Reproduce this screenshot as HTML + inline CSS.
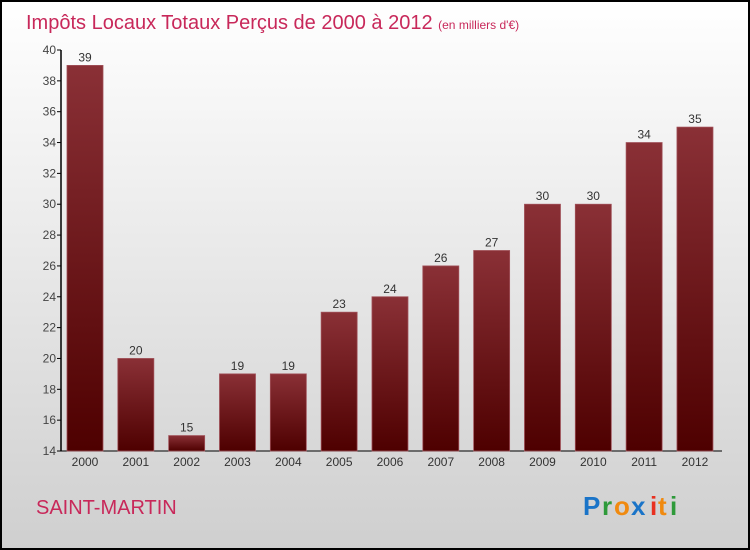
<!DOCTYPE html>
<html><head><meta charset="utf-8"><style>
body{margin:0;width:750px;height:550px;overflow:hidden}
svg{display:block}
</style></head><body>
<svg id="chart" width="750" height="550" xmlns="http://www.w3.org/2000/svg">
<defs>
<linearGradient id="bg" x1="0" y1="0" x2="0" y2="1"><stop offset="0" stop-color="#ffffff"/><stop offset="1" stop-color="#cfcfcf"/></linearGradient>
<linearGradient id="bar" x1="0" y1="0" x2="0" y2="1"><stop offset="0" stop-color="#8a3036"/><stop offset="1" stop-color="#4e0000"/></linearGradient>
</defs>
<rect x="1" y="1" width="748" height="548" fill="url(#bg)" stroke="#000" stroke-width="2"/>
<text x="26" y="29" font-family="Liberation Sans, sans-serif" font-size="20" fill="#c8285a">Impôts Locaux Totaux Perçus de 2000 à 2012 <tspan font-size="12">(en milliers d'€)</tspan></text>
<g id="axis"></g>
<g id="bars"></g>
<text x="36" y="514" font-family="Liberation Sans, sans-serif" font-size="20" fill="#c8285a">SAINT-MARTIN</text>
<g font-family="Liberation Sans, sans-serif" font-size="26" font-weight="bold">
<text x="583" y="515" fill="#1a74c8">P</text><text x="602" y="515" fill="#2e9a3a">r</text><text x="614" y="515" fill="#f08a10">o</text><text x="631" y="515" fill="#1a74c8">x</text><text x="650" y="515" fill="#e83020">i</text><text x="658" y="515" fill="#f08a10">t</text><text x="670" y="515" fill="#2e9a3a">i</text>
</g>
</svg>
<script>
const years=["2000","2001","2002","2003","2004","2005","2006","2007","2008","2009","2010","2011","2012"];
const values=[39,20,15,19,19,23,24,26,27,30,30,34,35];
const ticks=[14,16,18,20,22,24,26,28,30,32,34,36,38,40];
const NS="http://www.w3.org/2000/svg";
const yMin=14,yMax=40,plotTop=50,plotBot=451;
function yS(v){return plotBot-(v-yMin)/(yMax-yMin)*(plotBot-plotTop);}
function xc(i){return 85+i*50.83;}
function mk(tag,attrs,parent){const e=document.createElementNS(NS,tag);for(const k in attrs)e.setAttribute(k,attrs[k]);parent.appendChild(e);return e;}
const ax=document.getElementById('axis'),bg=document.getElementById('bars');
const line=mk('line',{x1:61,y1:plotTop,x2:61,y2:plotBot,stroke:'#000','stroke-width':1.5},ax);


const xl=mk('line',{x1:61,y1:plotBot,x2:722,y2:plotBot,stroke:'#000','stroke-width':1},ax);


ticks.forEach(t=>{
 const tk=mk('line',{x1:57,y1:yS(t),x2:61,y2:yS(t),stroke:'#000'},ax);
 
 
 const tx=mk('text',{x:56,y:yS(t)+4,'text-anchor':'end','font-family':'Liberation Sans, sans-serif','font-size':12,fill:'#444'},ax);
 tx.textContent=t;
 
 
});
values.forEach((v,i)=>{
 const r=mk('rect',{x:xc(i)-18,y:yS(v),width:36,height:plotBot-yS(v),fill:'url(#bar)',stroke:'#a05058','stroke-width':0.8},bg);
 
 
 const vl=mk('text',{x:xc(i),y:yS(v)-4,'text-anchor':'middle','font-family':'Liberation Sans, sans-serif','font-size':12,fill:'#333'},bg);
 vl.textContent=v;
 
 
 const xlb=mk('text',{x:xc(i),y:466,'text-anchor':'middle','font-family':'Liberation Sans, sans-serif','font-size':12,fill:'#333'},bg);
 xlb.textContent=years[i];
 
 
});
</script>
</body></html>
